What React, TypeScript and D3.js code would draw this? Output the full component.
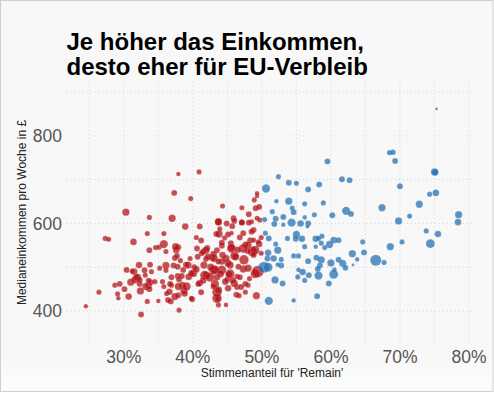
import React from 'react';
import * as d3 from 'd3';

// Stimmenanteil "Remain" in %, Medianeinkommen pro Woche in £, Wahlberechtigte (Tsd.)
const remainPct = [
  24.5, 26.4, 27.3, 27.8, 30.3, 31.4, 28.7, 29.1, 29.4, 29.2, 30.1, 30.7, 30.4, 31.0, 31.5, 31.8,
  32.2, 32.4, 32.5, 33.0, 32.3, 33.4, 33.4, 33.7, 33.8, 34.0, 33.7, 33.6, 33.9, 34.6, 35.1, 35.8,
  35.8, 35.0, 35.6, 35.8, 36.1, 36.2, 36.8, 36.9, 37.0, 37.3, 37.9, 37.6, 37.9, 37.4, 37.2, 37.8,
  38.0, 37.9, 38.5, 38.7, 38.9, 39.7, 40.9, 39.0, 39.4, 39.9, 40.1, 40.5, 40.6, 40.7, 41.0, 41.0,
  41.2, 41.5, 41.6, 42.0, 42.1, 41.9, 42.8, 43.0, 43.2, 43.5, 43.6, 43.7, 43.4, 43.7, 44.3, 43.9,
  44.6, 44.2, 44.2, 44.8, 45.0, 45.2, 45.4, 45.6, 45.7, 45.9, 45.6, 46.0, 46.3, 46.4, 46.4, 46.7,
  46.8, 47.1, 47.1, 47.3, 47.4, 47.6, 47.9, 48.1, 48.5, 48.3, 48.2, 48.8, 48.9, 49.3, 49.3, 49.1,
  49.6, 49.2, 49.0, 48.6, 49.4, 49.7, 49.6, 49.9, 49.9, 48.0, 47.6,
  38.2, 41.2, 41.9, 42.2, 43.5, 43.1, 43.7, 39.6, 39.3, 37.8, 38.6, 40.2, 41.7, 42.5, 36.9, 38.0,
  36.7, 37.9, 39.1, 38.8, 43.0, 36.6, 37.4, 36.4, 49.3, 44.9, 46.0, 48.1, 43.8, 45.1, 47.3, 48.8,
  49.5, 44.2, 45.5, 48.0, 49.0, 47.3, 45.6, 44.3, 48.8, 45.1, 46.6, 48.0, 44.2, 46.8, 43.5, 44.7,
  46.0, 47.6, 45.1, 36.1, 35.2, 31.2, 36.1, 33.1, 31.6, 34.5, 33.2,
  37.5, 37.7, 41.3, 39.8, 43.2, 40.8, 43.5, 39.8, 43.7, 47.1, 48.5, 46.2, 45.4, 43.7, 32.0, 32.3,
  33.6, 33.7, 42.6, 44.0, 45.8, 47.0, 41.5, 40.5, 38.4, 43.0, 46.5, 44.8,
  75.3, 68.5, 69.0, 69.3, 59.5, 75.0, 75.1, 52.4, 61.6, 62.7, 53.9, 55.0, 58.3, 50.6, 56.7, 70.0,
  74.3, 75.2, 52.1, 53.9, 56.2, 58.9, 67.4, 72.8, 51.5, 54.4, 54.6, 62.2, 62.9, 60.2, 53.1, 56.2,
  57.6, 78.5, 78.4, 71.4, 69.8, 52.0, 50.4, 51.8, 53.1, 54.3, 55.6, 56.7, 56.6, 50.5, 51.0, 53.7,
  55.0, 54.9, 55.8, 57.8, 58.7, 58.2, 60.4, 61.1, 64.6, 73.8, 75.5, 74.4, 70.3, 68.6, 52.0, 52.3,
  56.2, 57.8, 58.6, 59.8, 59.1, 63.1, 64.8, 66.5, 67.7, 63.8, 63.2, 50.8, 51.7, 52.8, 52.8, 54.6,
  55.3, 56.7, 57.9, 58.6, 58.4, 58.1, 60.0, 61.1, 61.7, 62.1, 60.5, 50.3, 50.9, 55.3, 55.9, 56.8,
  58.2, 60.4, 55.2, 56.2, 51.9, 53.0, 59.7, 51.0, 54.6, 58.0, 50.9, 52.3,
];
const weeklyIncome = [
  411, 443, 566, 564, 626, 558, 459, 439, 462, 429, 450, 433, 494, 466, 490, 477,
  505, 446, 392, 493, 462, 422, 577, 614, 506, 490, 539, 458, 466, 545, 546, 553,
  577, 423, 467, 456, 504, 440, 422, 459, 612, 670, 713, 539, 546, 521, 504, 480,
  402, 436, 459, 447, 593, 657, 718, 506, 478, 427, 486, 568, 543, 524, 593, 464,
  443, 536, 505, 482, 544, 519, 522, 494, 462, 443, 428, 414, 576, 603, 640, 588,
  567, 549, 513, 414, 472, 484, 505, 545, 594, 612, 578, 526, 437, 455, 479, 435,
  568, 636, 603, 496, 517, 552, 537, 621, 604, 562, 474, 585, 654, 663, 669, 635,
  638, 435, 485, 536, 490, 608, 553, 568, 532, 459, 443,
  515, 561, 539, 524, 539, 520, 513, 520, 505, 501, 494, 500, 482, 477, 477, 472,
  462, 456, 456, 440, 456, 444, 433, 425, 612, 600, 606, 602, 576, 575, 578, 562,
  558, 556, 555, 551, 539, 543, 543, 528, 528, 509, 501, 498, 494, 477, 477, 467,
  463, 462, 452, 536, 498, 491, 493, 482, 471, 467, 456,
  547, 526, 532, 486, 494, 462, 429, 429, 604, 602, 581, 524, 485, 448, 477, 471,
  469, 450, 500, 485, 470, 455, 470, 495, 480, 530, 540, 520,
  862, 762, 763, 743, 742, 718, 717, 707, 701, 699, 693, 692, 689, 680, 678, 685,
  667, 670, 651, 651, 645, 647, 636, 644, 627, 635, 626, 629, 622, 619, 615, 614,
  620, 620, 603, 617, 606, 611, 609, 599, 597, 602, 600, 600, 593, 578, 566, 566,
  575, 565, 565, 565, 571, 566, 562, 562, 558, 583, 576, 554, 558, 547, 553, 539,
  547, 547, 555, 552, 545, 531, 534, 516, 511, 518, 505, 520, 520, 518, 504, 526,
  526, 514, 522, 517, 504, 496, 510, 517, 509, 499, 495, 500, 500, 494, 489, 482,
  481, 484, 478, 470, 471, 463, 463, 423, 424, 434, 533, 506,
];
const electorate = [
  35, 45, 45, 45, 90, 75, 45, 45, 60, 35, 60, 75, 60, 90, 75, 75,
  75, 90, 60, 60, 60, 45, 45, 45, 60, 45, 60, 75, 60, 45, 45, 115,
  45, 35, 45, 45, 90, 45, 60, 45, 90, 60, 35, 75, 60, 60, 60, 60,
  45, 60, 75, 90, 75, 45, 45, 60, 75, 60, 90, 45, 60, 60, 60, 75,
  60, 60, 90, 90, 60, 60, 75, 135, 115, 155, 45, 45, 60, 75, 45, 45,
  45, 60, 75, 35, 60, 75, 90, 75, 60, 60, 35, 115, 60, 60, 45, 45,
  60, 45, 60, 90, 155, 60, 60, 60, 45, 60, 45, 60, 45, 35, 35, 60,
  60, 90, 135, 155, 235, 45, 75, 45, 45, 45, 45,
  45, 60, 90, 75, 60, 90, 60, 45, 90, 60, 60, 60, 135, 135, 60, 60,
  60, 90, 115, 75, 60, 75, 90, 60, 45, 60, 60, 60, 90, 60, 60, 45,
  45, 60, 60, 90, 135, 135, 135, 75, 60, 90, 60, 90, 135, 60, 75, 75,
  90, 60, 75, 45, 45, 45, 45, 45, 90, 45, 90,
  90, 60, 60, 75, 135, 60, 155, 45, 90, 60, 60, 90, 135, 90, 90, 60,
  60, 60, 90, 90, 75, 60, 75, 75, 60, 75, 75, 90,
  14, 50, 50, 60, 60, 90, 75, 45, 60, 60, 60, 45, 60, 115, 60, 60,
  45, 75, 35, 90, 45, 45, 90, 90, 45, 45, 60, 115, 60, 60, 60, 35,
  45, 90, 75, 45, 90, 60, 45, 60, 35, 115, 75, 60, 25, 45, 60, 45,
  90, 60, 75, 75, 45, 45, 75, 60, 45, 45, 75, 135, 45, 90, 45, 90,
  45, 35, 45, 90, 45, 90, 60, 210, 45, 35, 14, 60, 75, 45, 60, 45,
  45, 60, 60, 90, 60, 60, 90, 60, 90, 60, 35, 210, 135, 35, 75, 60,
  115, 135, 45, 45, 90, 60, 60, 115, 35, 60, 75, 35,
];
const xTicks = [30, 40, 50, 60, 70, 80];
const xGrid = [25, 30, 35, 40, 45, 50, 55, 60, 65, 70, 75, 80];
const yTicks = [400, 600, 800];
const yGrid = [400, 500, 600, 700, 800, 900];

const W = 494;
const H = 395;
const font = "'Liberation Sans', Arial, Helvetica, sans-serif";

export default function App() {
  const x = d3.scaleLinear().domain([25, 80]).range([89.3, 469]);
  const y = d3.scaleLinear().domain([400, 800]).range([311, 136]);
  const r = d3.scaleSqrt().domain([0, 235]).range([0, 5.9]);

  const points = remainPct.map((v, i) => ({
    remain: v,
    income: weeklyIncome[i],
    size: electorate[i],
  }));
  const red = points.filter((p) => p.remain < 50);
  const blue = points.filter((p) => p.remain >= 50);

  return (
    <svg
      width={W}
      height={H}
      style={{ position: 'absolute', left: 0, top: 0 }}
      fontFamily={font}
    >
      <defs>
        <linearGradient id="bg" x1="0" y1="0" x2="0" y2="1">
          <stop offset="0.92" stopColor="#f8f8f8" />
          <stop offset="1" stopColor="#fdfdfd" />
        </linearGradient>
      </defs>
      <rect x={0} y={0} width={W} height={H} fill="#fff" />
      <rect x={0.5} y={0.5} width={W - 1.5} height={391} fill="url(#bg)" stroke="#cfcfcf" />

      <text x={66.5} y={50} fontSize={24} fontWeight="bold" fill="#000">
        Je höher das Einkommen,
      </text>
      <text x={66.5} y={75} fontSize={24} fontWeight="bold" fill="#000">
        desto eher für EU-Verbleib
      </text>

      <g stroke="#d6d6d6" strokeWidth={1} strokeDasharray="1,3">
        {xGrid.map((t) => (
          <line key={'vx' + t} x1={x(t)} x2={x(t)} y1={82} y2={343} />
        ))}
        {yGrid.map((t) => (
          <line key={'hy' + t} x1={67} x2={475} y1={y(t)} y2={y(t)} />
        ))}
      </g>

      <g fill="#555" fontSize={17.5}>
        {xTicks.map((t) => (
          <text key={'xt' + t} x={x(t)} y={363} textAnchor="middle">
            {t}%
          </text>
        ))}
        {yTicks.map((t) => (
          <text key={'yt' + t} x={62} y={y(t)} dy="0.35em" textAnchor="end">
            {t}
          </text>
        ))}
      </g>

      <text x={272} y={377} fontSize={12} textAnchor="middle" fill="#222">
        Stimmenanteil für 'Remain'
      </text>
      <text
        transform={`translate(25.5, 212.5) rotate(-90)`}
        fontSize={12}
        textAnchor="middle"
        fill="#222"
      >
        Medianeinkommen pro Woche in £
      </text>

      <g fill="#b00c10" fillOpacity={0.72} stroke="#fff" strokeOpacity={0.3} strokeWidth={0.5}>
        {red.map((p, i) => (
          <circle key={'r' + i} cx={x(p.remain)} cy={y(p.income)} r={r(p.size)} />
        ))}
      </g>
      <g fill="#1f6cb0" fillOpacity={0.72} stroke="#fff" strokeOpacity={0.3} strokeWidth={0.5}>
        {blue.map((p, i) => (
          <circle key={'b' + i} cx={x(p.remain)} cy={y(p.income)} r={r(p.size)} />
        ))}
      </g>
    </svg>
  );
}
